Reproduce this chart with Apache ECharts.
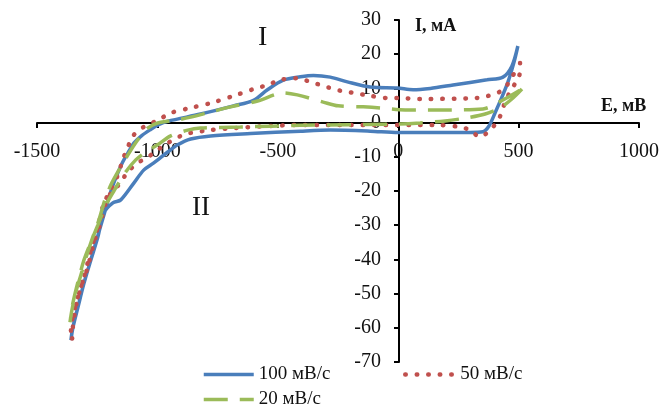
<!DOCTYPE html>
<html>
<head>
<meta charset="utf-8">
<script src="https://cdn.jsdelivr.net/npm/echarts@6/dist/echarts.min.js"></script>
<style>
  html, body { margin: 0; padding: 0; background: #fff; }
  #main { width: 662px; height: 404px; }
</style>
</head>
<body>
<div id="main"></div>
<script>
// E (мВ), I (мА) - closed CV loops
var names = ['100 мВ/с', '50 мВ/с', '20 мВ/с'];

var cv100 = [
  [497, 22.4], [481, 17.7], [456, 11.9], [431, 7.5], [402, 2.8], [377, -1.0], [352, -2.7],
  [298, -2.9], [174, -2.9], [62, -2.9], [0, -2.9], [-116, -2.5], [-282, -2.2], [-406, -2.5],
  [-613, -3.2], [-779, -3.9], [-862, -4.8], [-916, -6.5], [-957, -8.6], [-1015, -11.8],
  [-1057, -13.9], [-1098, -17.7], [-1152, -22.6], [-1185, -23.5], [-1222, -26.4], [-1247, -33.4],
  [-1276, -40.1], [-1305, -46.9], [-1330, -53.9], [-1351, -59.8], [-1359, -63.6],
  [-1351, -60], [-1330, -54], [-1305, -47], [-1276, -40], [-1247, -33], [-1220, -26.5],
  [-1193, -20], [-1169, -15.5], [-1144, -11.5], [-1115, -8], [-1098, -6], [-1065, -3.8],
  [-1028, -2.0], [-995, -0.6], [-957, 0.4], [-821, 2.5], [-684, 4.9], [-601, 6.5], [-543, 9.6],
  [-477, 12.4], [-406, 13.4], [-352, 13.8], [-282, 13.3], [-211, 11.9], [-116, 10.4], [-4, 10.1],
  [62, 9.6], [133, 10.0], [228, 11.0], [369, 12.5], [435, 13.3], [472, 16.5], [497, 22.4]
];

var cv50 = [
  [506, 17.4], [506, 14.8], [489, 11.9], [464, 8.9], [443, 6.0], [431, 3.1], [410, 0.2],
  [381, -2.2], [340, -4.2], [298, -2.2], [257, -1.3], [162, -0.7], [0, -0.7], [-406, -0.7],
  [-684, -1.6], [-779, -2.2], [-862, -3.0], [-903, -3.9], [-957, -6.0], [-999, -8.0],
  [-1040, -10.1], [-1082, -11.8], [-1123, -14.4], [-1160, -18.2], [-1185, -19.7], [-1214, -23.5],
  [-1235, -29.1], [-1264, -35.2], [-1289, -42.2], [-1318, -48.1], [-1339, -53.9], [-1351, -59.8],
  [-1355, -63.6],
  [-1359, -60.7], [-1334, -51.9], [-1305, -45.2], [-1276, -37.3], [-1247, -30.5], [-1222, -23.5],
  [-1193, -19.7], [-1164, -15.3], [-1144, -10.9], [-1119, -6.5], [-1098, -3.6], [-1057, -1.3],
  [-995, 0.8], [-945, 2.8], [-862, 4.3], [-779, 5.7], [-684, 7.8], [-601, 9.8], [-543, 11.0],
  [-489, 12.5], [-419, 13.0], [-365, 11.9], [-323, 11.0], [-282, 10.1], [-232, 9.2], [-186, 8.7],
  [-137, 8.1], [-46, 7.2], [0, 7.2], [91, 6.9], [327, 7.2], [373, 7.8], [419, 8.9], [452, 11.0],
  [472, 13.3], [501, 16.5]
];

var cv20 = [
  [514, 9.8], [472, 6.9], [423, 4.3], [361, 2.5], [278, 1.3], [195, 0.5], [91, -0.1], [0, -0.4],
  [-406, -0.8], [-655, -1.3], [-821, -1.6], [-874, -2.2], [-945, -3.9], [-999, -6.5],
  [-1048, -8.6], [-1090, -10.9], [-1131, -14.4], [-1173, -19.1], [-1214, -24.1], [-1247, -29.9],
  [-1276, -34.9], [-1305, -40.2], [-1330, -46.6], [-1351, -52.8], [-1363, -58.4],
  [-1355, -54.8], [-1339, -49.6], [-1318, -44.6], [-1293, -38.7], [-1268, -33.4], [-1243, -28.5],
  [-1218, -22.6], [-1193, -18.2], [-1160, -13.9], [-1123, -9.5], [-1082, -5.1], [-1040, -1.6],
  [-999, -0.1], [-916, 0.8], [-862, 1.6], [-779, 3.1], [-696, 4.6], [-584, 6.3], [-477, 8.7],
  [-419, 8.1], [-311, 6.0], [-249, 4.9], [-145, 4.6], [-75, 4.3], [29, 3.7], [203, 3.7],
  [352, 4.0], [435, 6.6], [514, 9.8]
];

var serif = "'Liberation Serif', 'Times New Roman', serif";

var myChart = echarts.init(document.getElementById('main'));

var legendText = { fontSize: 19, fontFamily: serif, color: '#111' };
var legendItem = { color: 'rgba(0,0,0,0)', borderColor: 'rgba(0,0,0,0)', borderWidth: 0 };

var option = {
  backgroundColor: '#fff',
  animation: false,
  textStyle: { fontFamily: serif },
  grid: { left: 37, right: 22, top: 20, bottom: 42 },
  xAxis: {
    type: 'value', min: -1500, max: 1000, interval: 500,
    position: 'bottom', offset: -239,
    axisLine: { onZero: false, lineStyle: { color: '#000', width: 2 } },
    axisTick: { show: true, length: 5, lineStyle: { color: '#000', width: 2 } },
    axisLabel: { color: '#111', fontSize: 20, fontFamily: serif, margin: 19,
      formatter: function (v) { return String(v); } },
    splitLine: { show: false }
  },
  yAxis: {
    type: 'value', min: -70, max: 30, interval: 10,
    position: 'left', offset: -362,
    axisLine: { onZero: false, lineStyle: { color: '#000', width: 2 } },
    axisTick: { show: true, length: 5, lineStyle: { color: '#000', width: 2 } },
    axisLabel: { color: '#111', fontSize: 20, fontFamily: serif, margin: 18 },
    splitLine: { show: false }
  },
  legend: [
    { data: [names[0]], left: 197, top: 360, itemWidth: 50, itemHeight: 14,
      lineStyle: { width: 'inherit' }, itemStyle: legendItem, textStyle: legendText },
    { data: [names[1]], left: 398, top: 360, itemWidth: 50, itemHeight: 14,
      lineStyle: { width: 'inherit' }, itemStyle: legendItem, textStyle: legendText },
    { data: [names[2]], left: 197, top: 385, itemWidth: 50, itemHeight: 14,
      lineStyle: { width: 'inherit' }, itemStyle: legendItem, textStyle: legendText }
  ],
  series: [
    { name: names[0], type: 'line', data: cv100, symbol: 'none', smooth: 0.3,
      lineStyle: { color: '#4A7EBB', width: 3.5 }, itemStyle: { color: '#4A7EBB' } },
    { name: names[1], type: 'line', data: cv50, symbol: 'none', smooth: 0.3,
      lineStyle: { color: '#C0504D', width: 4.5, type: [0.5, 11], cap: 'round' },
      itemStyle: { color: '#C0504D' } },
    { name: names[2], type: 'line', data: cv20, symbol: 'none', smooth: 0.3,
      lineStyle: { color: '#9BBB59', width: 3.5, type: [24, 12] }, itemStyle: { color: '#9BBB59' } }
  ],
  graphic: [
    { type: 'text', left: 258, top: 24, style: { text: 'I', font: '28px ' + serif, fill: '#111' } },
    { type: 'text', left: 192, top: 194, style: { text: 'II', font: '27px ' + serif, fill: '#111' } },
    { type: 'text', left: 415, top: 17, style: { text: 'I, мА', font: 'bold 18px ' + serif, fill: '#111' } },
    { type: 'text', left: 601, top: 97, style: { text: 'E, мВ', font: 'bold 18px ' + serif, fill: '#111' } }
  ]
};

myChart.setOption(option);
</script>
</body>
</html>
